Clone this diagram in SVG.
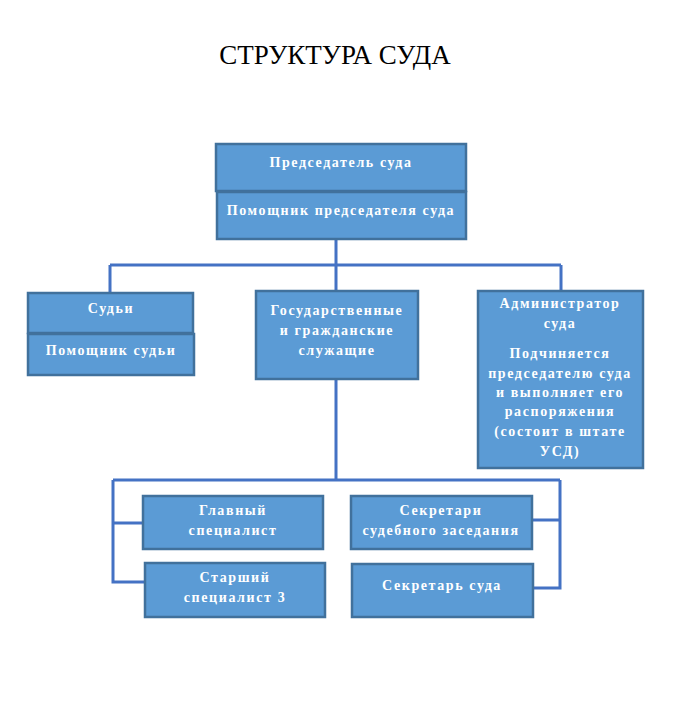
<svg xmlns="http://www.w3.org/2000/svg" width="676" height="719" viewBox="0 0 676 719">
<style>
.box{fill:#5B9BD5;stroke:#41719C;stroke-width:2.5}
.t{font-family:"Liberation Serif","Times New Roman",serif;font-weight:bold;font-size:14px;fill:#fff;text-anchor:middle;letter-spacing:1.6px}
.ln{fill:none;stroke:#4472C4;stroke-width:3}
</style>
<rect width="676" height="719" fill="#fff"/>
<text x="335" y="64" font-family="'Liberation Serif','Times New Roman',serif" font-size="27" text-anchor="middle" fill="#000">СТРУКТУРА СУДА</text>
<g id="connectors">
<path class="ln" d="M336 240V265M110 265H561M110 265V292M561 265V291M336 265V291"/>
<path class="ln" d="M336 379V480M113 480H560M113 480V582H145M113 523H143M560 480V588H533M532 520H560"/>
</g>
<g id="chairman"><rect class="box" x="216" y="144" width="250" height="47"/><text class="t" x="341" y="167">Председатель суда</text></g>
<g id="chairman-assistant"><rect class="box" x="217" y="192" width="249" height="47"/><text class="t" x="341" y="215">Помощник председателя суда</text></g>
<g id="judges"><rect class="box" x="28" y="293" width="165" height="40"/><text class="t" x="111" y="313">Судьи</text></g>
<g id="judge-assistant"><rect class="box" x="28" y="334" width="166" height="41"/><text class="t" x="111" y="355">Помощник судьи</text></g>
<g id="civil-servants"><rect class="box" x="256" y="291" width="162" height="88"/><text class="t" x="337" y="315">Государственные</text><text class="t" x="337" y="335">и гражданские</text><text class="t" x="337" y="355">служащие</text></g>
<g id="administrator"><rect class="box" x="478" y="291" width="165" height="177"/>
<text class="t" x="560" y="308">Администратор</text><text class="t" x="560" y="328">суда</text>
<text class="t" x="560" y="358">Подчиняется</text><text class="t" x="560" y="378">председателю суда</text><text class="t" x="560" y="397">и выполняет его</text><text class="t" x="560" y="416">распоряжения</text><text class="t" x="560" y="436">(состоит в штате</text><text class="t" x="560" y="456">УСД)</text></g>
<g id="chief-specialist"><rect class="box" x="143" y="496" width="180" height="53"/><text class="t" x="233" y="515">Главный</text><text class="t" x="233" y="535">специалист</text></g>
<g id="senior-specialist"><rect class="box" x="145" y="563" width="180" height="54"/><text class="t" x="235" y="582">Старший</text><text class="t" x="235" y="602">специалист 3</text></g>
<g id="session-secretaries"><rect class="box" x="351" y="496" width="181" height="53"/><text class="t" x="441" y="515">Секретари</text><text class="t" x="441" y="535">судебного заседания</text></g>
<g id="court-secretary"><rect class="box" x="352" y="564" width="181" height="53"/><text class="t" x="442" y="590">Секретарь суда</text></g>
</svg>
